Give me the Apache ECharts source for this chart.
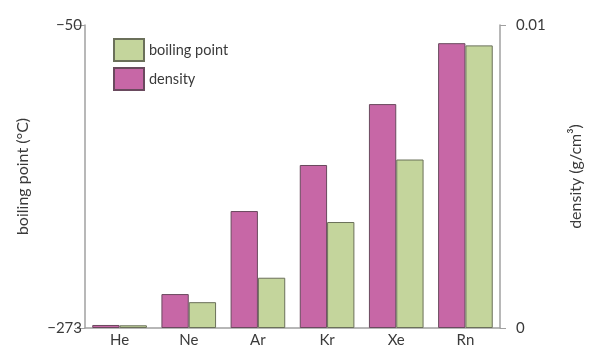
<!DOCTYPE html>
<html>
<head>
<meta charset="utf-8">
<script src="https://cdn.jsdelivr.net/npm/echarts@6/dist/echarts.min.js"></script>
<style>
  html, body { margin: 0; padding: 0; background: #fff; }
  #chart { width: 592px; height: 351px; }
</style>
</head>
<body>
<div id="chart"></div>
<script>
// Noble gases: density (g/cm³) and boiling point (°C)
const elements = ['He', 'Ne', 'Ar', 'Kr', 'Xe', 'Rn'];
const density = [0.0001, 0.00112, 0.00386, 0.00538, 0.00739, 0.0094];
const boilingPoint = [-271, -254, -236, -195, -149, -65];
const boilingTicks = [-273, -50];
const densityTicks = [0, 0.01];

const textColor = '#3a3a3a';
const axisColor = '#a0a0a0';
const font = 'Lato, "Open Sans", sans-serif';
const minus = v => String(v).replace('-', '\u2212');

// Boiling-point bars rise from the axis floor (−273 °C), so they are plotted
// as heights above that floor and the axis labels shift back to °C.
const floor = boilingTicks[0];
const boilingHeights = boilingPoint.map(v => v - floor);
const boilingTickHeights = boilingTicks.map(v => v - floor);

const chart = echarts.init(document.getElementById('chart'), null, { renderer: 'canvas' });
chart.setOption({
  animation: false,
  textStyle: { fontFamily: font },
  grid: { left: 85, right: 80, top: 25, bottom: 23, containLabel: false },
  legend: {
    orient: 'vertical',
    left: 108,
    top: 33,
    itemWidth: 30,
    itemHeight: 22,
    itemGap: 5,
    icon: 'rect',
    data: ['boiling point', 'density'],
    textStyle: { color: textColor, fontSize: 14.5, fontFamily: font }
  },
  tooltip: { show: false },
  xAxis: {
    type: 'category',
    data: elements,
    axisLine: { lineStyle: { color: axisColor, width: 1.5 } },
    axisTick: { show: false },
    axisLabel: { color: textColor, fontSize: 15, margin: 5, fontFamily: font }
  },
  yAxis: [
    {
      type: 'value',
      min: boilingTickHeights[0],
      max: boilingTickHeights[1],
      position: 'left',
      name: 'boiling point (°C)',
      nameLocation: 'middle',
      nameGap: 54,
      nameTextStyle: { color: textColor, fontSize: 16, fontFamily: font },
      splitLine: { show: false },
      axisLine: { show: true, lineStyle: { color: axisColor, width: 1.5 } },
      axisTick: { show: true, length: 10, customValues: boilingTickHeights, lineStyle: { color: axisColor } },
      axisLabel: {
        color: textColor, fontSize: 15, margin: 3, fontFamily: font,
        customValues: boilingTickHeights,
        formatter: v => minus(v + floor)
      }
    },
    {
      type: 'value',
      min: densityTicks[0],
      max: densityTicks[1],
      interval: 0.01,
      position: 'right',
      name: 'density (g/cm³)',
      nameLocation: 'middle',
      nameGap: 68,
      nameRotate: 90,
      nameTextStyle: { color: textColor, fontSize: 16, fontFamily: font },
      splitLine: { show: false },
      axisLine: { show: true, lineStyle: { color: axisColor, width: 1.5 } },
      axisTick: { show: true, length: 6, lineStyle: { color: axisColor } },
      axisLabel: { color: textColor, fontSize: 15, margin: 16, fontFamily: font }
    }
  ],
  series: [
    {
      name: 'density',
      type: 'bar',
      yAxisIndex: 1,
      data: density,
      barGap: '0%',
      barCategoryGap: '21%',
      itemStyle: { color: '#c767a6', borderColor: '#6a4a5e', borderWidth: 1 }
    },
    {
      name: 'boiling point',
      type: 'bar',
      yAxisIndex: 0,
      data: boilingHeights,
      barGap: '0%',
      barCategoryGap: '21%',
      itemStyle: { color: '#c4d59c', borderColor: '#6b705a', borderWidth: 1 }
    }
  ]
});
</script>
</body>
</html>
